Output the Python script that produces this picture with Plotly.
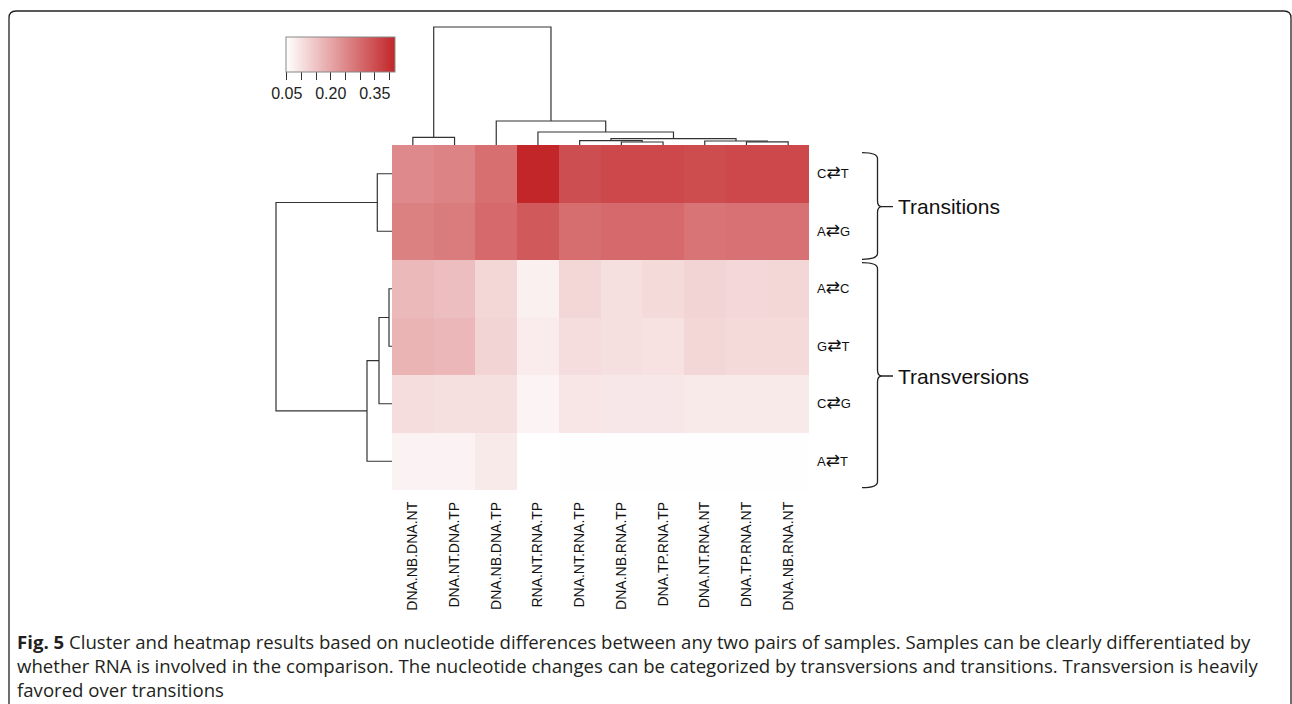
import plotly.graph_objects as go

W, H = 1292, 704

# ---------------- data ----------------
col_labels = ["DNA.NB.DNA.NT", "DNA.NT.DNA.TP", "DNA.NB.DNA.TP", "RNA.NT.RNA.TP",
              "DNA.NT.RNA.TP", "DNA.NB.RNA.TP", "DNA.TP.RNA.TP", "DNA.NT.RNA.NT",
              "DNA.TP.RNA.NT", "DNA.NB.RNA.NT"]
row_labels = ["C⇄T", "A⇄G", "A⇄C", "G⇄T", "C⇄G", "A⇄T"]

ct = [0.248, 0.259, 0.293, 0.420, 0.349, 0.360, 0.360, 0.353, 0.360, 0.360]
ag = [0.263, 0.270, 0.304, 0.330, 0.297, 0.304, 0.304, 0.285, 0.289, 0.289]
ac = [0.166, 0.158, 0.117, 0.072, 0.117, 0.102, 0.110, 0.121, 0.113, 0.117]
gt = [0.177, 0.169, 0.121, 0.080, 0.106, 0.102, 0.098, 0.117, 0.110, 0.110]
cg = [0.106, 0.102, 0.102, 0.065, 0.091, 0.087, 0.087, 0.083, 0.083, 0.083]
at = [0.068, 0.068, 0.083, 0.046, 0.049, 0.049, 0.049, 0.048, 0.048, 0.049]

# hierarchical merges: (left node, right node, height); leaves are 0..n-1 in display order
col_merges = [(5, 6, 0.030), (8, 9, 0.032), (4, 10, 0.043), (7, 11, 0.040),
              (12, 13, 0.063), (0, 1, 0.077), (3, 14, 0.130), (2, 16, 0.240),
              (15, 17, 1.180)]
row_merges = [(2, 3, 0.030), (6, 4, 0.130), (0, 1, 0.147), (7, 5, 0.250),
              (8, 9, 1.160)]

cbar_tickvals = [0.05, 0.10, 0.15, 0.20, 0.25, 0.30, 0.35, 0.40]
cbar_ticktext = ["0.05", "", "", "0.20", "", "", "0.35", ""]

caption_lines = [
    "<b>Fig. 5</b> Cluster and heatmap results based on nucleotide differences between any two pairs of samples. Samples can be clearly differentiated by",
    "whether RNA is involved in the comparison. The nucleotide changes can be categorized by transversions and transitions. Transversion is heavily",
    "favored over transitions",
]

z = [ct, ag, ac, gt, cg, at]


def px(x):
    return x / W


def py(y):
    return 1 - y / H


def dendro(merges, n):
    pos = {i: float(i) for i in range(n)}
    hgt = {i: 0.0 for i in range(n)}
    xs, ys = [], []
    for k, (a, b, h) in enumerate(merges):
        xs += [pos[a], pos[a], pos[b], pos[b], None]
        ys += [hgt[a], h, h, hgt[b], None]
        pos[n + k] = (pos[a] + pos[b]) / 2
        hgt[n + k] = h
    return xs, ys


def row_tick(label):
    a, arrow, b = label[0], label[1], label[2]
    return (f"{a}<span style='font-family:DejaVu Sans;font-size:17px'>{arrow}</span>{b}")


FONT = "Liberation Sans, Arial, Helvetica, sans-serif"
LINE = "#333333"

fig = go.Figure()

fig.add_trace(go.Heatmap(
    z=z, x=col_labels, y=row_labels,
    zmin=0.0466, zmax=0.418,
    colorscale=[[0, "#ffffff"], [1, "#c22629"]],
    xgap=0, ygap=0,
    colorbar=dict(
        orientation="h",
        x=px(285.7), xanchor="left",
        y=py(37.3), yanchor="top",
        len=108.6, lenmode="pixels",
        thickness=35.4, thicknessmode="pixels",
        xpad=0, ypad=0,
        outlinewidth=1, outlinecolor="#888888",
        ticks="outside", ticklen=8, tickwidth=1, tickcolor="#333333",
        tickvals=cbar_tickvals, ticktext=cbar_ticktext,
        tickfont=dict(family=FONT, size=16, color="#222222"),
    ),
    hoverongaps=False,
))

cx, cy = dendro(col_merges, len(col_labels))
fig.add_trace(go.Scatter(x=cx, y=cy, mode="lines", xaxis="x2", yaxis="y2",
                         line=dict(color=LINE, width=1.2), hoverinfo="skip",
                         showlegend=False))
rx, ry = dendro(row_merges, len(row_labels))
fig.add_trace(go.Scatter(x=ry, y=rx, mode="lines", xaxis="x3", yaxis="y3",
                         line=dict(color=LINE, width=1.2), hoverinfo="skip",
                         showlegend=False))

hm_x = [px(392), px(809)]
hm_y = [py(490), py(145)]

fig.update_layout(
    width=W, height=H,
    margin=dict(l=0, r=0, t=0, b=0),
    paper_bgcolor="white", plot_bgcolor="white",
    showlegend=False,
    xaxis=dict(domain=hm_x, anchor="y", tickangle=-90, ticks="",
               showgrid=False, zeroline=False, showline=False,
               tickfont=dict(family=FONT, size=14, color="#111111"),
               ticklabelstandoff=8),
    yaxis=dict(domain=hm_y, anchor="x", autorange="reversed", side="right",
               ticks="", showgrid=False, zeroline=False, showline=False,
               tickmode="array", tickvals=row_labels,
               ticktext=[row_tick(l) for l in row_labels],
               tickfont=dict(family=FONT, size=13, color="#111111"),
               ticklabelstandoff=7),
    xaxis2=dict(domain=hm_x, anchor="y2", range=[-0.5, 9.5], visible=False),
    yaxis2=dict(domain=[py(145), py(20)], anchor="x2", range=[0, 1.25], visible=False),
    xaxis3=dict(domain=[px(270), px(392)], anchor="y3", range=[1.22, 0], visible=False),
    yaxis3=dict(domain=hm_y, anchor="x3", range=[5.5, -0.5], visible=False),
)


def P(x, y):
    return f"{px(x):.6f},{py(y):.6f}"


def brace(y0, y1, ym):
    xl, xv, xt, xd = 862, 877.5, 882, 893
    r = 6
    return (f"M {P(xl, y0)} Q {P(xv, y0)} {P(xv, y0 + r)} L {P(xv, ym - r)} "
            f"Q {P(xv, ym)} {P(xt, ym)} Q {P(xv, ym)} {P(xv, ym + r)} "
            f"L {P(xv, y1 - r)} Q {P(xv, y1)} {P(xl, y1)} "
            f"M {P(xt, ym)} L {P(xd, ym)}")


shapes = [
    dict(type="path", xref="paper", yref="paper", path=brace(152.7, 259.3, 206.7),
         line=dict(color="#222222", width=1.3)),
    dict(type="path", xref="paper", yref="paper", path=brace(262.7, 487.7, 376),
         line=dict(color="#222222", width=1.3)),
    dict(type="path", xref="paper", yref="paper",
         path=f"M {P(9, 720)} L {P(9, 18)} Q {P(9, 11)} {P(16, 11)} L {P(1284, 11)} "
              f"Q {P(1291, 11)} {P(1291, 18)} L {P(1291, 720)}",
         line=dict(color="#222222", width=1.3)),
]

annotations = [
    dict(text="Transitions", x=px(896), y=py(206.7), xref="paper", yref="paper",
         xanchor="left", yanchor="middle", showarrow=False,
         font=dict(family=FONT, size=21, color="#111111")),
    dict(text="Transversions", x=px(896), y=py(376), xref="paper", yref="paper",
         xanchor="left", yanchor="middle", showarrow=False,
         font=dict(family=FONT, size=21, color="#111111")),
]
for i, line in enumerate(caption_lines):
    annotations.append(dict(
        text=line, x=px(15), y=py(641 + 24 * i), xref="paper", yref="paper",
        xanchor="left", yanchor="middle", showarrow=False, align="left",
        font=dict(family="Open Sans, sans-serif", size=18.6, color="#231f20")))

fig.update_layout(shapes=shapes, annotations=annotations)

fig.write_html("out.html")
